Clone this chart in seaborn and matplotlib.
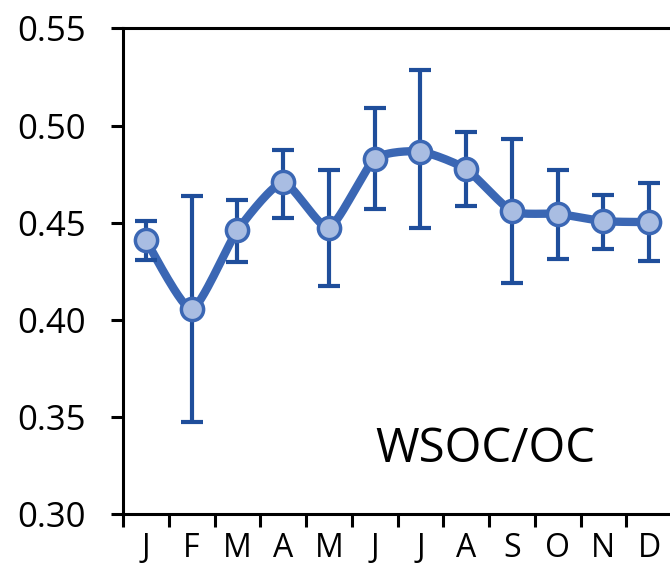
import numpy as np
import pandas as pd
import matplotlib
matplotlib.use("Agg")
import matplotlib.pyplot as plt
import seaborn as sns

months = ['J', 'F', 'M', 'A', 'M', 'J', 'J', 'A', 'S', 'O', 'N', 'D']
ratio = [0.441, 0.4055, 0.446, 0.4707, 0.4474, 0.4827, 0.4866, 0.4776, 0.4559, 0.4546, 0.4508, 0.4503]
err_hi = [0.4511, 0.4636, 0.4619, 0.4875, 0.4769, 0.5089, 0.5285, 0.4964, 0.4930, 0.4769, 0.4645, 0.4704]
err_lo = [0.4306, 0.3475, 0.4298, 0.4525, 0.4175, 0.4568, 0.4472, 0.4585, 0.4189, 0.4311, 0.4363, 0.4303]
yticks = [0.30, 0.35, 0.40, 0.45, 0.50, 0.55]
label = "WSOC/OC"

sns.set_theme(style="white")
plt.rcParams['font.family'] = ['Open Sans', 'DejaVu Sans']

LINE = "#3B67B4"
ERR = "#1F4E9B"
FILL = "#A9BDE2"

df = pd.DataFrame({"x": np.arange(len(months)), "y": ratio})

# Smooth curve through the data points (reduced-tension cubic Bezier)
def smooth(xs, ys, k=10.0, n=30):
    xs = np.asarray(xs, float); ys = np.asarray(ys, float)
    px = np.concatenate([[xs[0]], xs, [xs[-1]]])
    py = np.concatenate([[ys[0]], ys, [ys[-1]]])
    outx, outy = [], []
    t = np.linspace(0, 1, n)
    for i in range(1, len(px) - 2):
        p0, p1, p2, p3 = [np.array([px[j], py[j]]) for j in (i - 1, i, i + 1, i + 2)]
        c1 = p1 + (p2 - p0) / k
        c2 = p2 - (p3 - p1) / k
        b = ((1 - t) ** 3)[:, None] * p1 + (3 * (1 - t) ** 2 * t)[:, None] * c1 \
            + (3 * (1 - t) * t ** 2)[:, None] * c2 + (t ** 3)[:, None] * p2
        outx.extend(b[:, 0]); outy.extend(b[:, 1])
    return np.array(outx), np.array(outy)

sx, sy = smooth(df["x"], df["y"])
curve = pd.DataFrame({"x": sx, "y": sy})

fig = plt.figure(figsize=(6.70, 5.78), dpi=100)
ax = fig.add_axes([123 / 670, 63.7 / 578, 549 / 670, 486 / 578])

sns.lineplot(data=curve, x="x", y="y", ax=ax, color=LINE, linewidth=6.0,
             sort=False, estimator=None, zorder=2)
yerr = np.array([np.array(ratio) - np.array(err_lo), np.array(err_hi) - np.array(ratio)])
ax.errorbar(df["x"], df["y"], yerr=yerr, fmt="none", ecolor=ERR,
            elinewidth=3.0, capsize=8, capthick=3.0, zorder=3)
ax.plot(df["x"], df["y"], linestyle="none", marker="o", markersize=16,
        markerfacecolor=FILL, markeredgecolor=LINE, markeredgewidth=2.5, zorder=4)

ax.set_xlim(-0.5, 11.5)
ax.set_ylim(0.30, 0.55)
ax.set_yticks(yticks)
ax.set_yticklabels([f"{v:.2f}" for v in yticks])
ax.set_xticks(np.arange(-0.5, 12.0, 1.0))
ax.set_xticklabels([])
ax.set_xticks(np.arange(len(months)), minor=True)
ax.set_xticklabels(months, minor=True)
ax.tick_params(axis="x", which="minor", bottom=True, length=0, pad=13,
               labelsize=23, labelcolor="black")
ax.tick_params(axis="x", which="major", bottom=True, length=9, width=2.2,
               direction="out", color="black")
ax.tick_params(axis="y", which="major", left=True, length=9, width=2.2, direction="out",
               color="black", labelsize=25, labelcolor="black", pad=18)
ax.set_xlabel("")
ax.set_ylabel("")

for side in ["left", "bottom", "top"]:
    ax.spines[side].set_visible(True)
    ax.spines[side].set_color("black")
    ax.spines[side].set_linewidth(2.2)
ax.spines["right"].set_visible(False)

ax.text(7.41, 0.3269, label, ha="center", va="baseline", fontsize=34, color="black")

fig.savefig("out.png", dpi=100)
